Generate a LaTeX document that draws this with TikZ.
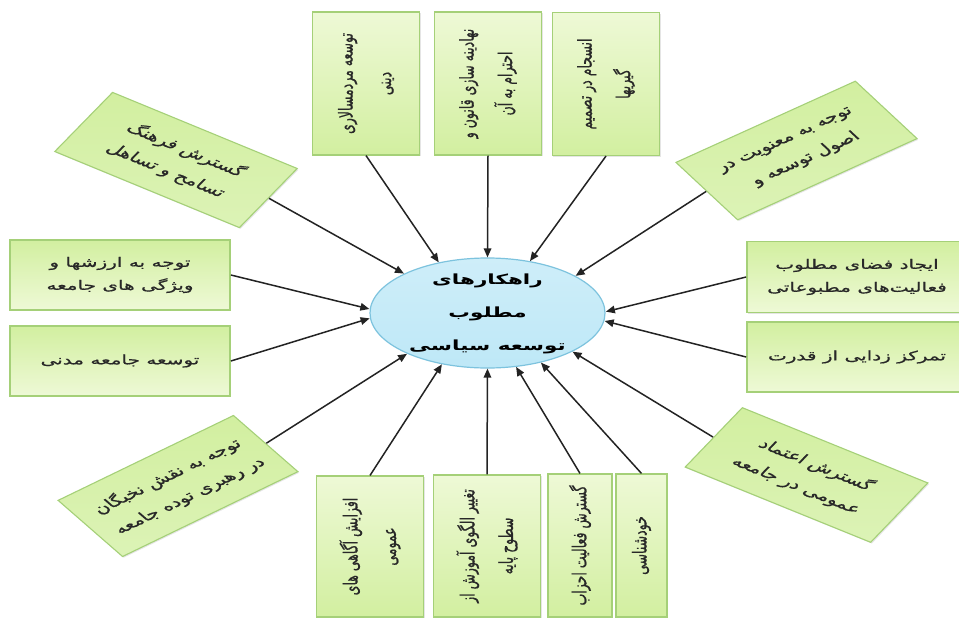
\documentclass[tikz,border=0pt]{standalone}
\usepackage{fontspec}
\TeXXeTstate=1
\newfontfamily\fa[Script=Arabic]{DejaVu Sans}
\newfontfamily\famedium[Script=Arabic, FakeBold=0.7]{DejaVu Sans}
\usetikzlibrary{shapes.geometric,arrows.meta,shadows}
\newcommand\pline[1]{\beginR #1\endR}
\definecolor{gdark}{RGB}{210,239,160}
\definecolor{glight}{RGB}{238,249,214}
\definecolor{gmid}{RGB}{220,243,182}
\definecolor{gborder}{RGB}{165,208,120}
\definecolor{efill}{RGB}{190,232,247}
\definecolor{eborder}{RGB}{125,195,222}
\definecolor{arrcol}{RGB}{35,35,35}
\definecolor{txt}{RGB}{40,40,40}
\tikzset{
  gbox/.style={draw=gborder, line width=1.1pt, align=center, text=txt, inner sep=1.5pt,
    drop shadow={opacity=0.2, shadow xshift=1.2pt, shadow yshift=-1.2pt}},
  hbox/.style={gbox, top color=gdark, bottom color=glight, minimum width=142.9pt, minimum height=70pt,
    font=\famedium\fontsize{13}{23}\selectfont},
  vbox/.style={gbox, rotate=90, top color=glight, bottom color=gdark, minimum width=143pt,
    font=\famedium\fontsize{12.5}{25}\selectfont},
  rbox/.style={gbox, top color=gdark, bottom color=gmid, minimum width=142pt, minimum height=70pt,
    font=\famedium\fontsize{13.5}{24}\selectfont},
  arr/.style={draw=arrcol, line width=1.5pt, -{Triangle[length=9pt,width=7.5pt]}},
}
\begin{document}
\begin{tikzpicture}[x=0.649351pt,y=-1pt]
\begin{scope}[xscale=1.54, transform shape]
\useasboundingbox (0,0) rectangle (959,619);
\clip (0,0) rectangle (959,619);
\fill[white] (0,0) rectangle (959,619);

% centre
\node[ellipse, draw=eborder, line width=1.2pt, top color=efill!75!white, bottom color=efill,
  minimum width=152.6pt, minimum height=110pt, inner sep=0pt] (ell) at (487.5,313) {};
\node[font=\fa\bfseries\fontsize{14}{33}\selectfont, align=center, text=black] (ellT) at (487.5,314)
  {\pline{راهکارهای}\\\pline{مطلوب}\\\pline{توسعه سیاسی}};

% left boxes
\node[hbox] (bL1) at (120,275) {\pline{توجه به ارزشها و}\\\pline{ویژگی های جامعه}};
\node[hbox] (bL2) at (120,361) {\pline{توسعه جامعه مدنی}};
% right boxes
\node[hbox, minimum height=71pt] (bR1) at (857,277) {\pline{ایجاد فضای مطلوب}\\\pline{فعالیت‌های مطبوعاتی}};
\node[hbox] (bR2) at (857,357) {\pline{تمرکز زدایی از قدرت}};

% top vertical boxes
\node[vbox, minimum height=70pt] (vT1) at (366,83.5) {\pline{توسعه مردمسالاری}\\\pline{دینی}};
\node[vbox, minimum height=70pt] (vT2) at (488,83.5) {\pline{نهادینه سازی قانون و}\\\pline{احترام به آن}};
\node[vbox, minimum height=70pt] (vT3) at (606,84) {\pline{انسجام در تصمیم}\\\pline{گیریها}};

% bottom vertical boxes
\node[vbox, minimum width=141pt, minimum height=70pt] (vB1) at (370,546.5) {\pline{افزایش آگاهی های}\\\pline{عمومی}};
\node[vbox, minimum width=142pt, minimum height=70pt] (vB2) at (487,546) {\pline{تغییر الگوی آموزش از}\\\pline{سطوح پایه}};
\node[vbox, minimum height=41.6pt] (vB3) at (580,545.5) {\pline{گسترش فعالیت احزاب}};
\node[vbox, minimum height=33.1pt] (vB4) at (641.5,545.5) {\pline{خودشناسی}};

% rotated boxes
\node[rbox, rotate=-32.4] (rTL) at (176,160) {\pline{گسترش فرهنگ}\\\pline{تسامح و تساهل}};
\node[rbox, rotate=34.9] (rTR) at (796.5,150.5) {\pline{توجه به معنویت در}\\\pline{اصول توسعه و}};
\node[rbox, rotate=-32] (rBR) at (806.5,475) {\pline{گسترش اعتماد}\\\pline{عمومی در جامعه}};
\node[rbox, rotate=36.7] (rBL) at (178,486) {\pline{توجه به نقش نخبگان}\\\pline{در رهبری توده جامعه}};
\end{scope}

% connectors
\draw[arr] (rTL.east) -- (ell.144.2);
\draw[arr] (vT1.west) -- (ell.122.7);
\draw[arr] (vT2.west) -- (ell.90);
\draw[arr] (vT3.west) -- (ell.62.3);
\draw[arr] (rTR.west) -- (ell.33.2);
\draw[arr] (bR1.west) -- (ell.1.5);
\draw[arr] (bR2.west) -- (ell.-6.6);
\draw[arr] (rBR.west) -- (ell.-35.9);
\draw[arr] (vB4.east) -- (ell.-55.9);
\draw[arr] (vB3.east) -- (ell.-71.2);
\draw[arr] (vB2.east) -- (ell.-90);
\draw[arr] (vB1.east) -- (ell.-120.9);
\draw[arr] (rBL.east) -- (ell.-142.2);
\draw[arr] (bL2.east) -- (ell.-176.3);
\draw[arr] (bL1.east) -- (ell.177.8);
\end{tikzpicture}
\end{document}
